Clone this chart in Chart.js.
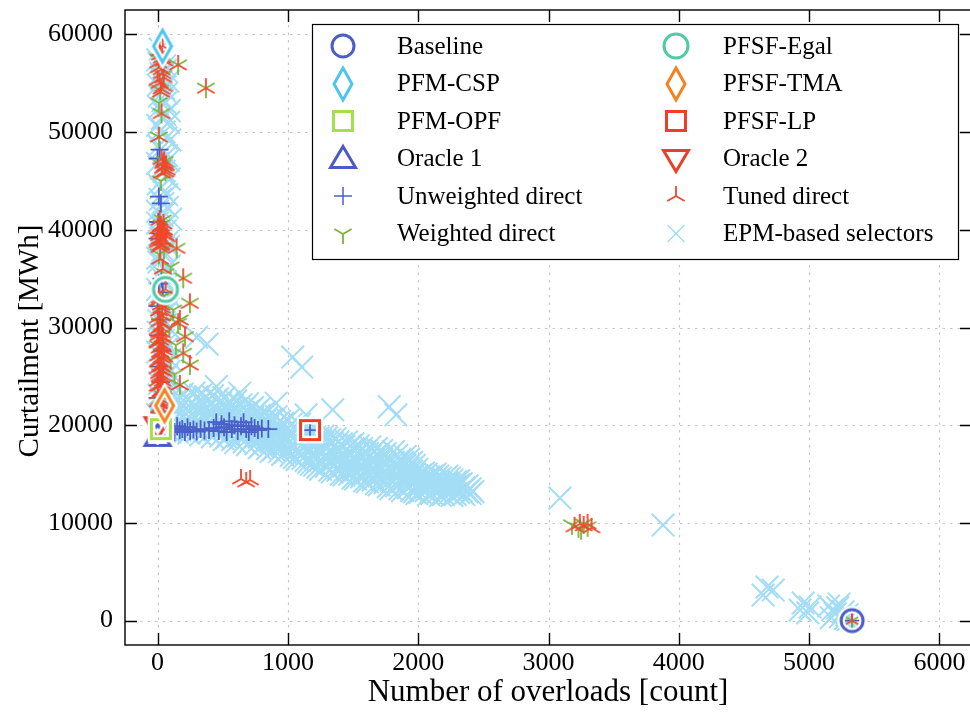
<!DOCTYPE html>
<html>
<head>
<meta charset="utf-8">
<script src="https://cdn.jsdelivr.net/npm/chart.js"></script>
<style>
  html, body { margin: 0; padding: 0; background: #fff; overflow: hidden; }
  #wrap { width: 975px; height: 713px; }
</style>
</head>
<body>
<div id="wrap"><canvas id="c" width="975" height="713"></canvas></div>
<script>
// Axis ranges and tick values
const xRange = [-250, 6250];
const yRange = [-2500, 62500];
const xTicks = [0, 1000, 2000, 3000, 4000, 5000, 6000];
const yTicks = [0, 10000, 20000, 30000, 40000, 50000, 60000];

// Single-result methods: [overloads, curtailment]
const baselinePoint = [[5330, 0]];
const pfmCspPoint   = [[38, 58800]];
const pfmOpfPoint   = [[25, 19600]];
const oracle1Point  = [[0, 18800]];
const pfsfEgalPoint = [[61, 33900]];
const pfsfTmaPoint  = [[54, 22000]];
const pfsfLpPoint   = [[1170, 19500]];
const oracle2Point  = [[0, 19900]];

// Unweighted direct selectors
const unweightedPoints = [
  [15,48200],[0,47300],[10,43400],[25,42700],[5,40800],[20,39600],[0,39100],[30,35000],[10,34500],[40,33600],
  [0,32200],[20,30800],[5,29200],[35,27600],[10,26000],[25,24400],[0,22800],[15,21300],[5,20300],[30,19300],
  [90,19400],[110,19700],[130,19300],[150,19900],[170,19450],[190,19600],[210,19300],[230,19800],[250,19400],
  [275,19550],[300,19350],[330,19600],[360,19450],[395,19500],[430,19700],[450,20300],[470,19400],[490,20100],
  [510,19800],[530,19300],[550,20400],[570,19600],[590,20000],[615,19400],[640,19900],[660,20300],[680,19600],
  [700,19300],[720,19900],[745,19700],[770,19500],[800,19650],[850,19600],
  [1170,19500],[5330,0]
];

// Weighted direct selectors
const weightedPoints = [
  [5,57500],[45,55800],[20,54300],[158,56880],[371,54500],[30,51900],[10,49500],[55,47000],[60,46000],[35,46600],
  [30,40500],[50,38000],[146,38100],[100,36200],[60,35500],[197,35040],[20,33000],[248,32480],[120,31800],
  [171,30770],[158,30430],[90,30000],[210,29060],[140,28200],[197,27360],[100,26700],[248,26160],[130,25200],
  [171,24120],[40,23000],[20,21000],
  [15,30500],[35,29300],[5,28100],[25,31900],[45,33200],[10,37500],[40,41000],[25,45000],[10,53000],[35,58000],
  [3180,9800],[3230,9500],[3270,9900],[3300,9600],[3250,9300],
  [5330,0]
];

// Tuned direct selectors
const tunedPoints = [
  [40,58800],[20,57900],[50,57300],[10,56600],[35,56000],[0,55300],[45,54700],[25,54100],[158,56880],[371,54500],
  [15,58300],[35,57600],[5,57100],[30,56400],[45,55600],[15,55000],[30,54400],
  [30,51900],[10,49500],[43,46800],[69,46100],[55,46500],[30,47200],[60,45900],[40,46300],[50,47000],[65,46600],[35,45800],
  [20,40200],[45,39800],[10,39400],[35,39000],[60,38700],[25,38400],[50,40000],[5,38900],[70,39300],[146,38100],
  [15,38200],[30,38500],[0,38700],[40,38900],[20,39100],[55,39500],[10,39700],[35,40000],[25,40400],[45,40600],[0,40100],[15,41000],
  [40,36000],[20,37000],[61,33900],[197,35040],[15,33000],[30,32000],[248,32480],[60,31500],[5,31000],
  [171,30770],[158,30430],[210,29060],[197,27360],[248,26160],[171,24120],
  [10,29500],[35,29000],[0,28500],[40,28000],[20,27500],[50,27000],[5,26500],[30,26000],[45,25500],[15,25000],
  [40,24500],[0,24000],[25,23500],[50,23000],[10,22500],[35,22000],[20,21500],[45,21000],[30,20500],[60,19600],
  [10,21800],[30,22100],[0,22400],[20,22700],[40,22900],[5,23200],[25,23400],[45,23700],[15,24000],[35,24200],
  [0,24500],[20,24800],[40,25000],[10,25300],[30,25600],[0,25800],[20,26100],[45,26300],[10,26600],[30,26900],
  [5,27100],[25,27400],[45,27700],[15,27900],[35,28200],[0,28400],[20,28700],[40,29000],[10,29200],[30,29500],
  [0,29800],[20,30000],[40,30300],[15,30600],[35,31200],[10,31700],[25,32300],[0,32700],
  [30,18800],
  [640,14500],[680,14200],[710,14400],
  [3200,9600],[3240,9900],[3270,9700],[3300,9900],[3330,9500],
  [5330,0]
];

// EPM-based selectors: low-overload column
const epmColumn = [
  [20,58500],[45,57800],[10,57000],[60,56300],[30,55500],[5,54800],[70,54000],[40,53200],[15,52500],[55,51800],
  [85,51000],[25,50200],[65,49400],[10,48600],[45,47900],[80,47100],[30,46300],[60,45500],[5,44700],[50,43900],
  [20,43100],[75,42300],[35,41500],[0,40700],[60,39900],[25,39100],[85,38300],[45,37500],[10,36700],[55,35900],
  [30,35100],[70,34300],[15,33500],[50,32700],[80,31900],[25,31100],[60,30300],[5,29500],[45,28700],[75,27900],
  [20,27100],[55,26300],[90,25500],[35,24700],[65,23900],[10,23100],[50,22300],[80,21500],[25,20700],[60,20000],
  [95,19300],
  [35,58000],[0,57400],[55,56800],[25,56000],[80,55200],[45,54500],[15,53700],[60,53000],[90,52200],[35,51400],
  [0,50700],[50,50000],[95,49200],[30,48300],[70,47600],[0,46800],[50,46000],[90,45200],[25,44300],[70,43600],
  [40,42700],[0,41900],[100,41100],[45,40300],[15,39500],[70,38700],[40,37900],[0,37100],[90,36300],[30,35500],
  [60,34700],[0,33900],[95,33100],[35,32300],[65,31500],[10,30700],[90,29900],[30,29100],[60,28300],[0,27500],
  [95,26700],[40,25900],[70,25100],[15,24300],[85,23500],[30,22700],[60,21900],[0,21100],[100,20400]
];

// EPM-based selectors: main trade-off band
const epmBand = [
  [110,19600],[110,20800],[110,21900],[110,22900],
  [150,19300],[150,20300],[150,21400],[150,22500],
  [190,19800],[190,20900],[190,22100],[190,23200],
  [240,19200],[240,20400],[240,21500],[240,22700],
  [280,19700],[280,20900],[280,22000],[280,23300],
  [330,19000],[330,20200],[330,21300],[330,22400],[330,23100],
  [370,19500],[370,20600],[370,21800],[370,22900],
  [420,18800],[420,19900],[420,21100],[420,22200],[420,23000],
  [460,19300],[460,20400],[460,21600],[460,22700],
  [510,18500],[510,19700],[510,20800],[510,21900],[510,22800],
  [550,19100],[550,20200],[550,21300],[550,22400],
  [600,18200],[600,19400],[600,20500],[600,21700],[600,22500],
  [640,18800],[640,19900],[640,21000],[640,22100],
  [690,18000],[690,19200],[690,20300],[690,21400],[690,22200],
  [730,18600],[730,19700],[730,20800],[730,21800],
  [780,17700],[780,18800],[780,19900],[780,21000],[780,21700],
  [820,18200],[820,19300],[820,20400],[820,21300],
  [870,17300],[870,18400],[870,19500],[870,20600],
  [910,17800],[910,18900],[910,20000],[910,20900],
  [960,17000],[960,18100],[960,19100],[960,20200],
  [1000,17500],[1000,18600],[1000,19700],[1000,20500],
  [1050,16700],[1050,17800],[1050,18800],[1050,19900],
  [1090,17200],[1090,18300],[1090,19300],[1090,20100],
  [1140,16400],[1140,17500],[1140,18500],[1140,19500],
  [1180,16000],[1180,16900],[1180,18000],[1180,19000],
  [1230,15700],[1230,16700],[1230,17700],[1230,18700],
  [1270,16200],[1270,17200],[1270,18200],[1270,18900],
  [1320,15400],[1320,16400],[1320,17400],[1320,18500],
  [1360,15900],[1360,16900],[1360,17900],[1360,18600],
  [1410,15000],[1410,16000],[1410,17000],[1410,18100],
  [1450,15500],[1450,16500],[1450,17500],[1450,18300],
  [1500,14600],[1500,15600],[1500,16600],[1500,17600],[1500,18100],
  [1540,15100],[1540,16100],[1540,17100],[1540,17900],
  [1590,14300],[1590,15300],[1590,16300],[1590,17300],
  [1630,14800],[1630,15800],[1630,16800],[1630,17800],
  [1680,14000],[1680,15000],[1680,16000],[1680,17000],[1680,17600],
  [1720,14500],[1720,15500],[1720,16500],[1720,17400],
  [1770,13700],[1770,14700],[1770,15700],[1770,16700],
  [1810,14200],[1810,15200],[1810,16200],[1810,17300],
  [1860,13500],[1860,14500],[1860,15500],[1860,16500],
  [1900,13900],[1900,14900],[1900,15900],[1900,16800],
  [1950,13300],[1950,14300],[1950,15300],[1950,16200],
  [1990,13000],[1990,13900],[1990,14800],[1990,15500],
  [2040,13400],[2040,14300],[2040,15100],
  [2080,12900],[2080,13800],[2080,14700],
  [2130,13300],[2130,14200],[2130,15000],
  [2170,12800],[2170,13700],[2170,14600],
  [2220,13200],[2220,14100],[2220,14800],
  [2260,12800],[2260,13600],[2260,14400],
  [2310,13100],[2310,13900],[2310,14300],
  [2350,12900],[2350,13600],
  [2400,13000],[2400,13500],
  [130,19900],[130,21000],[130,22200],
  [170,19500],[170,20600],[170,21800],[170,22900],
  [215,19400],[215,20500],[215,21700],[215,22800],
  [260,19900],[260,21100],[260,22300],
  [305,19400],[305,20500],[305,21700],[305,22900],
  [350,19800],[350,20900],[350,22100],
  [395,19200],[395,20300],[395,21400],[395,22600],
  [440,19500],[440,20700],[440,21900],
  [485,18900],[485,20000],[485,21200],[485,22300],
  [530,18700],[530,19900],[530,21000],[530,22000],
  [575,18500],[575,19700],[575,20900],[575,22000],
  [620,18900],[620,20000],[620,21200],
  [665,18300],[665,19500],[665,20700],[665,21800],
  [710,18300],[710,19400],[710,20600],[710,21600],
  [755,18100],[755,19300],[755,20400],[755,21400],
  [800,17900],[800,19000],[800,20100],[800,21100],
  [845,17600],[845,18700],[845,19800],[845,20900],
  [890,17500],[890,18600],[890,19700],[890,20600],
  [935,17300],[935,18400],[935,19500],[935,20400],
  [980,17200],[980,18300],[980,19400],
  [1025,16900],[1025,18000],[1025,19100],[1025,20100],
  [1070,16500],[1070,17500],[1070,18500],[1070,19600],
  [1115,16600],[1115,17700],[1115,18800],[1115,19700],
  [1160,16200],[1160,17200],[1160,18300],[1160,19200],
  [1205,15900],[1205,17000],[1205,18100],[1205,18800],
  [1250,15500],[1250,16400],[1250,17400],[1250,18400],
  [1295,15800],[1295,16800],[1295,17800],[1295,18700],
  [1340,15200],[1340,16200],[1340,17100],[1340,18200],
  [1385,15400],[1385,16400],[1385,17400],[1385,18300],
  [1430,14900],[1430,15800],[1430,16800],[1430,17800],
  [1475,15000],[1475,16000],[1475,17100],[1475,17900],
  [1520,14500],[1520,15400],[1520,16400],[1520,17400],
  [1565,14700],[1565,15700],[1565,16700],[1565,17600],
  [1610,14200],[1610,15100],[1610,16100],[1610,17100],
  [1655,14400],[1655,15400],[1655,16400],[1655,17300],
  [1700,13900],[1700,14800],[1700,15800],[1700,16800],
  [1745,14100],[1745,15100],[1745,16100],[1745,17100],
  [1790,13500],[1790,14400],[1790,15400],[1790,16400],
  [1835,13800],[1835,14800],[1835,15800],[1835,16900],
  [1880,13300],[1880,14200],[1880,15200],[1880,16200],
  [1925,13600],[1925,14600],[1925,15600],[1925,16500],
  [1970,13200],[1970,14100],[1970,15000],[1970,15900],
  [2015,13100],[2015,14000],[2015,14900],
  [2060,13300],[2060,14200],[2060,15000],
  [2105,13000],[2105,13900],[2105,14800],
  [2150,13100],[2150,14000],[2150,14800],
  [2195,12900],[2195,13800],[2195,14500],
  [2240,13000],[2240,13900],[2240,14600],
  [2285,12900],[2285,13700],[2285,14200],
  [2330,13300],[2330,14000],
  [2375,13200],[2375,13800],
  [2420,13200]
];

// EPM-based selectors: scattered results
const epmScatter = [
  [300,29000],[380,28300],[1037,26970],[1106,25950],[451,23950],[630,23280],[910,22250],[1140,21060],
  [1344,21580],[1778,21900],[1829,21060],
  [3088,12540],[3879,9780],
  [4677,3430],[4647,2610],[4724,3120],
  [4954,1790],[5008,1380],[4931,1070],[4990,800],
  [5150,1500],[5180,1100],[5200,700],[5220,1300],[5240,400],[5260,900],[5280,200],[5170,300],[5230,1700],
  [5290,600],[5300,100]
];

const toXY = arr => arr.map(([x, y]) => ({ x, y }));

// Marker images
function marker(size, draw) {
  const c = document.createElement('canvas');
  c.width = size; c.height = size;
  const g = c.getContext('2d');
  g.translate(size / 2, size / 2);
  g.lineJoin = 'miter';
  draw(g);
  return c;
}
function haloed(size, path, color, lw) {
  return marker(size, g => {
    path(g); g.strokeStyle = '#ffffff'; g.lineWidth = lw + 4.5; g.stroke();
    path(g); g.strokeStyle = color; g.lineWidth = lw; g.stroke();
  });
}
const circlePath = r => g => { g.beginPath(); g.arc(0, 0, r, 0, Math.PI * 2); g.closePath(); };
const diamondPath = (hw, hh) => g => { g.beginPath(); g.moveTo(0, -hh); g.lineTo(hw, 0); g.lineTo(0, hh); g.lineTo(-hw, 0); g.closePath(); };
const squarePath = h => g => { g.beginPath(); g.rect(-h, -h, 2 * h, 2 * h); g.closePath(); };
const triUpPath = (w, h) => g => { g.beginPath(); g.moveTo(0, -h * 0.6); g.lineTo(w / 2, h * 0.4); g.lineTo(-w / 2, h * 0.4); g.closePath(); };
const triDownPath = (w, h) => g => { g.beginPath(); g.moveTo(0, h * 0.6); g.lineTo(w / 2, -h * 0.4); g.lineTo(-w / 2, -h * 0.4); g.closePath(); };
function spokes(size, r, color, lw, angles) {
  return marker(size, g => {
    g.strokeStyle = color; g.lineWidth = lw; g.lineCap = 'butt';
    g.beginPath();
    angles.forEach(a => { const t = a * Math.PI / 180; g.moveTo(0, 0); g.lineTo(r * Math.cos(t), r * Math.sin(t)); });
    g.stroke();
  });
}

const C = {
  baseline: '#4b5ec6', csp: '#4ec5ef', opf: '#a3e04c', oracle1: '#4a5cc4', unweighted: '#4b5fc8',
  weighted: '#79b43e', egal: '#4ecaa7', tma: '#f5821f', lp: '#ee3f24', oracle2: '#e8402a',
  tuned: '#f0482c', epm: '#a2ddf5'
};

const mk = {
  baseline: haloed(36, circlePath(11), C.baseline, 3),
  csp: haloed(46, diamondPath(9, 16), C.csp, 3),
  opf: haloed(34, squarePath(9.5), C.opf, 3),
  oracle1: haloed(38, triUpPath(25, 21), C.oracle1, 3),
  egal: haloed(38, circlePath(12), C.egal, 3),
  tma: haloed(46, diamondPath(9, 16), C.tma, 3),
  lp: haloed(34, squarePath(9.5), C.lp, 3),
  oracle2: haloed(38, triDownPath(25, 21), C.oracle2, 3),
  weighted: spokes(24, 10, C.weighted, 1.8, [90, 210, 330]),
  tuned: spokes(24, 10, C.tuned, 1.8, [270, 30, 150])
};

const serif = 'Liberation Serif';

function scatterSet(label, pts, style, color, order, extra) {
  return Object.assign({
    label, data: toXY(pts), pointStyle: style, pointRadius: 6,
    borderColor: color, backgroundColor: 'rgba(0,0,0,0)', pointBorderWidth: 2, order
  }, extra || {});
}

const datasets = [
  scatterSet('EPM-based selectors', [...epmColumn, ...epmBand, ...epmScatter], 'crossRot', C.epm, 20, { pointRadius: 16, pointBorderWidth: 2 }),
  scatterSet('Unweighted direct', unweightedPoints, 'cross', C.unweighted, 19, { pointRadius: 9, pointBorderWidth: 1.8 }),
  scatterSet('Weighted direct', weightedPoints, mk.weighted, C.weighted, 18),
  scatterSet('Tuned direct', tunedPoints, mk.tuned, C.tuned, 17),
  scatterSet('Oracle 1', oracle1Point, mk.oracle1, C.oracle1, 9),
  scatterSet('Oracle 2', oracle2Point, mk.oracle2, C.oracle2, 8),
  scatterSet('PFM-OPF', pfmOpfPoint, mk.opf, C.opf, 7),
  scatterSet('PFSF-TMA', pfsfTmaPoint, mk.tma, C.tma, 6),
  scatterSet('PFM-CSP', pfmCspPoint, mk.csp, C.csp, 5),
  scatterSet('PFSF-Egal', pfsfEgalPoint, mk.egal, C.egal, 4),
  scatterSet('PFSF-LP', pfsfLpPoint, mk.lp, C.lp, 3),
  scatterSet('Baseline', baselinePoint, mk.baseline, C.baseline, 2)
];

// Legend layout: two columns, six rows
const legendColumns = [
  ['Baseline', 'PFM-CSP', 'PFM-OPF', 'Oracle 1', 'Unweighted direct', 'Weighted direct'],
  ['PFSF-Egal', 'PFSF-TMA', 'PFSF-LP', 'Oracle 2', 'Tuned direct', 'EPM-based selectors']
];

const decor = {
  id: 'decor',
  beforeDatasetsDraw(chart) {
    const { ctx, chartArea: a, scales: { x, y } } = chart;
    ctx.save();
    ctx.strokeStyle = '#c6c6c6';
    ctx.lineWidth = 1.2;
    ctx.setLineDash([2.5, 5]);
    xTicks.forEach(v => {
      const p = Math.round(x.getPixelForValue(v)) + 0.5;
      ctx.beginPath(); ctx.moveTo(p, a.top); ctx.lineTo(p, a.bottom); ctx.stroke();
    });
    yTicks.forEach(v => {
      const p = Math.round(y.getPixelForValue(v)) + 0.5;
      ctx.beginPath(); ctx.moveTo(a.left, p); ctx.lineTo(a.right, p); ctx.stroke();
    });
    ctx.restore();
  },
  afterDatasetsDraw(chart) {
    const { ctx, chartArea: a, scales: { x, y } } = chart;
    ctx.save();
    ctx.strokeStyle = '#000';
    ctx.lineWidth = 1.4;
    ctx.strokeRect(a.left, a.top, a.right - a.left, a.bottom - a.top);
    const t = 12;
    ctx.beginPath();
    xTicks.forEach(v => {
      const p = Math.round(x.getPixelForValue(v)) + 0.5;
      ctx.moveTo(p, a.bottom); ctx.lineTo(p, a.bottom - t);
      ctx.moveTo(p, a.top); ctx.lineTo(p, a.top + t);
    });
    yTicks.forEach(v => {
      const p = Math.round(y.getPixelForValue(v)) + 0.5;
      ctx.moveTo(a.left, p); ctx.lineTo(a.left + t, p);
      ctx.moveTo(a.right, p); ctx.lineTo(a.right - t, p);
    });
    ctx.stroke();
    ctx.restore();
  },
  afterDraw(chart) {
    const ctx = chart.ctx;
    const byLabel = {};
    chart.data.datasets.forEach(d => { byLabel[d.label] = d; });
    ctx.save();
    // legend box
    ctx.fillStyle = '#fff';
    ctx.fillRect(312, 24, 646, 235);
    ctx.strokeStyle = '#000';
    ctx.lineWidth = 1.2;
    ctx.strokeRect(312.5, 24.5, 646, 235);
    const rows = [46, 83.5, 121, 158.5, 196, 233.5];
    const markX = [343, 676];
    const textX = [397, 723];
    ctx.font = '25px "' + serif + '"';
    ctx.textBaseline = 'middle';
    ctx.textAlign = 'left';
    legendColumns.forEach((col, ci) => {
      col.forEach((label, ri) => {
        const d = byLabel[label];
        const cy = rows[ri];
        const cx = markX[ci];
        ctx.save();
        ctx.strokeStyle = d.borderColor;
        if (typeof d.pointStyle === 'string') {
          ctx.lineWidth = 1.5;
          Chart.helpers.drawPoint(ctx, { pointStyle: d.pointStyle, radius: d.pointStyle === 'crossRot' ? 12 : 9, borderWidth: 1.5, rotation: 0 }, cx, cy);
        } else {
          ctx.drawImage(d.pointStyle, Math.round(cx - d.pointStyle.width / 2), Math.round(cy - d.pointStyle.height / 2));
        }
        ctx.restore();
        ctx.fillStyle = '#000';
        ctx.fillText(label, textX[ci], cy + 1);
      });
    });
    // axis titles
    ctx.fillStyle = '#000';
    ctx.textAlign = 'center';
    ctx.textBaseline = 'middle';
    ctx.font = '31px "' + serif + '"';
    ctx.fillText('Number of overloads [count]', 548, 693);
    ctx.translate(30, 341);
    ctx.rotate(-Math.PI / 2);
    ctx.font = '29px "' + serif + '"';
    ctx.fillText('Curtailment [MWh]', 0, 0);
    ctx.restore();
  }
};

const tickFont = { family: serif, size: 26 };
const noPad = s => { s.paddingTop = 0; s.paddingBottom = 0; s.paddingLeft = 0; s.paddingRight = 0; };

new Chart(document.getElementById('c'), {
  type: 'scatter',
  data: { datasets },
  options: {
    responsive: false,
    devicePixelRatio: 1,
    animation: false,
    events: [],
    layout: { autoPadding: false, padding: { top: 10, right: 3, left: 0, bottom: 0 } },
    plugins: { legend: { display: false }, tooltip: { enabled: false } },
    scales: {
      x: {
        type: 'linear', min: xRange[0], max: xRange[1],
        grid: { display: false, drawTicks: false },
        border: { display: false },
        ticks: { font: tickFont, color: '#000', padding: 3, maxRotation: 0, callback: v => String(v) },
        afterBuildTicks: s => { s.ticks = xTicks.map(v => ({ value: v })); },
        afterFit: s => { s.height = 68; noPad(s); }
      },
      y: {
        type: 'linear', min: yRange[0], max: yRange[1],
        grid: { display: false, drawTicks: false },
        border: { display: false },
        ticks: { font: tickFont, color: '#000', padding: 12, callback: v => String(v) },
        afterBuildTicks: s => { s.ticks = yTicks.map(v => ({ value: v })); },
        afterFit: s => { s.width = 125; noPad(s); }
      }
    }
  },
  plugins: [decor]
});
</script>
</body>
</html>
